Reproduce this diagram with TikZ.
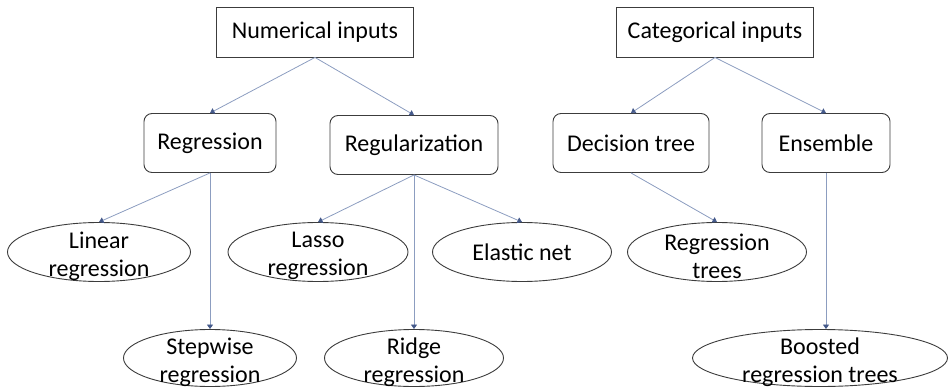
\documentclass[tikz,border=0pt]{standalone}
\usepackage{fontspec}
\setmainfont{Carlito}
\usetikzlibrary{shapes.geometric,arrows.meta}

\definecolor{linie}{HTML}{8C9DC0}
\definecolor{spitze}{HTML}{44598A}
\definecolor{rand}{HTML}{3C3C3C}

\tikzset{
  schrift/.style={font=\fontsize{24}{28}\selectfont},
  kasten/.style={draw=rand, line width=0.9pt, schrift, inner sep=0pt},
  oben/.style={kasten, rectangle, minimum width=197pt, minimum height=50pt},
  mitte/.style={kasten, rounded corners=8pt, minimum height=59pt},
  blatt/.style={kasten, ellipse},
  innen/.style={schrift, align=center, inner sep=0pt, yshift=-4pt},
  pfeil/.style={draw=linie, line width=0.8pt, -{Triangle[width=6pt,length=4.5pt,color=spitze]}},
}

\begin{document}
\begin{tikzpicture}[x=1pt, y=1pt]
    \useasboundingbox (0,0) rectangle (949,-390);
    % oberste Ebene:
    \node[oben] (num) at (315,-32) {Numerical inputs};
    \node[oben] (cat) at (715,-32) {Categorical inputs};
    % mittlere Ebene:
    \node[mitte, minimum width=132pt] (reg) at (210,-143) {Regression};
    \node[mitte, minimum width=168pt] (regu) at (414,-145) {Regularization};
    \node[mitte, minimum width=156pt] (dtree) at (631,-143) {Decision tree};
    \node[mitte, minimum width=128pt] (ens) at (826,-143) {Ensemble};
    % erste Blattreihe:
    \node[blatt, minimum width=183pt, minimum height=59pt, label={[innen]center:Linear\\regression}] (lin) at (99,-252) {};
    \node[blatt, minimum width=180pt, minimum height=59pt, label={[innen]center:Lasso\\regression}] (lasso) at (318,-252) {};
    \node[blatt, minimum width=179pt, minimum height=59pt] (elastic) at (522,-252) {Elastic net};
    \node[blatt, minimum width=179pt, minimum height=59pt, label={[innen]center:Regression\\trees}] (rtree) at (717,-252) {};
    % zweite Blattreihe:
    \node[blatt, minimum width=173pt, minimum height=57pt, label={[innen]center:Stepwise\\regression}] (step) at (210,-358) {};
    \node[blatt, minimum width=179pt, minimum height=57pt, label={[innen]center:Ridge\\regression}] (ridge) at (414,-358) {};
    \node[blatt, minimum width=255pt, minimum height=57pt, label={[innen]center:Boosted\\regression trees}] (boost) at (820,-358) {};
    % Pfeile:
    \draw[pfeil] (num.south) -- (reg.north);
    \draw[pfeil] (num.south) -- (regu.north);
    \draw[pfeil] (cat.south) -- (dtree.north);
    \draw[pfeil] (cat.south) -- (ens.north);
    \draw[pfeil] (reg.south) -- (lin.north);
    \draw[pfeil] (reg.south) -- (step.north);
    \draw[pfeil] (regu.south) -- (lasso.north);
    \draw[pfeil] (regu.south) -- (ridge.north);
    \draw[pfeil] (regu.south) -- (elastic.north);
    \draw[pfeil] (dtree.south) -- (rtree.north);
    \draw[pfeil] (ens.south) -- (ens.south |- boost.north); % senkrecht
\end{tikzpicture}
\end{document}
